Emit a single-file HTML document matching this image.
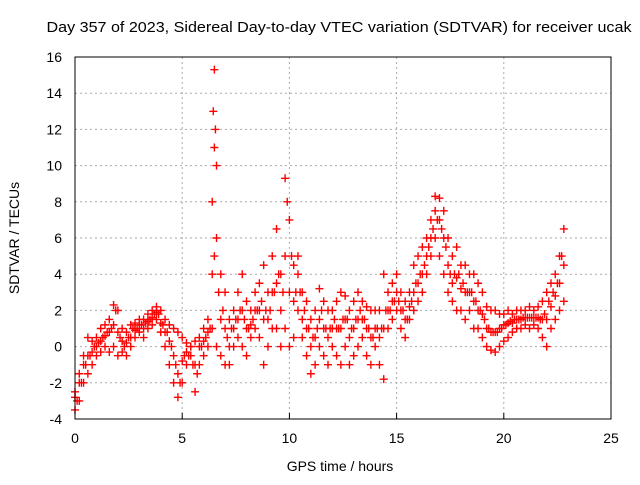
<!DOCTYPE html>
<html><head><meta charset="utf-8"><style>
body{margin:0;background:#fff}
svg text{font-family:"Liberation Sans",sans-serif;font-size:14px;fill:#000}
</style></head><body>
<svg id="c" width="640" height="480">
<text x="339" y="32" text-anchor="middle" textLength="585" lengthAdjust="spacingAndGlyphs" style="font-size:15px">Day 357 of 2023, Sidereal Day-to-day VTEC variation (SDTVAR) for receiver ucak</text>
<text x="340" y="471" text-anchor="middle">GPS time / hours</text>
<text transform="translate(19,238) rotate(-90)" text-anchor="middle">SDTVAR / TECUs</text>
<g id="grid"></g><g id="marks"></g>
<rect x="75" y="57" width="536" height="362" fill="none" stroke="#000"/>
</svg>
<script>
const xTicks=[0,5,10,15,20,25];
const yTicks=[-4,-2,0,2,4,6,8,10,12,14,16];
const times=[0,0.2,0.4,0.6,0.8,1.0,1.2,1.4,1.6,1.8,2.0,2.2,2.4,2.6,2.8,3.0,3.2,3.4,3.6,3.8,4.0,4.2,4.4,4.6,4.8,5.0,5.2,5.4,5.6,5.8,6.0,6.2,6.4,6.5,6.6,6.8,7.0,7.2,7.4,7.6,7.8,8.0,8.2,8.4,8.6,8.8,9.0,9.2,9.4,9.6,9.8,10.0,10.2,10.4,10.6,10.8,11.0,11.2,11.4,11.6,11.8,12.0,12.2,12.4,12.6,12.8,13.0,13.2,13.4,13.6,13.8,14.0,14.2,14.4,14.6,14.8,15.0,15.2,15.4,15.6,15.8,16.0,16.2,16.4,16.6,16.8,17.0,17.2,17.4,17.6,17.8,18.0,18.2,18.4,18.6,18.8,19.0,19.2,19.4,19.6,19.8,20.0,20.2,20.4,20.6,20.8,21.0,21.2,21.4,21.6,21.8,22.0,22.2,22.4,22.6,22.8];
const lowVals=[-3.5,-3,-2,-1.5,-1,-0.5,-0.3,0,-0.3,0,-0.5,-0.3,-0.5,0,0.5,0.8,0.5,1,1.2,1.5,0.8,0,-1,-2,-2.8,-2,-1,-0.5,-2.5,-1,-0.5,0,1,5,0,-0.5,-1,-1,0,0.5,0,-0.5,0.5,1,0.5,-1,0,1,1,0,1,0,0.5,2,0.5,-0.5,-1.5,-1,0,-0.5,-1,0,-0.5,-1,0,-1,-0.5,0,0.5,-0.5,-1,0,-1,-1.8,1,1.5,2,1,0.5,1.5,2,2.5,3,4,5,6,5,4,3,2.5,2,2,1.5,2,1,1,0.5,0,-0.2,-0.3,0,0.3,0.5,0.8,1,1,1.2,1,1.2,1,0.5,0,1,1.5,2,2.5];
const midVals=[-2.8,-2,-1,-0.5,-0.3,0,0.3,0.6,0.8,1.2,0.8,0.3,0.2,0.5,0.9,1.2,1,1.4,1.6,1.9,1.3,0.8,0.3,-0.5,-1.5,-0.8,-0.3,0,-1,0,0.3,0.8,4,11,6,1.5,1,0,1,1.5,2,1,1.2,2,2,1.5,1.5,3,3.5,2,5,3,2.5,4,1.5,1,0,0.5,1.5,1,0.5,1,1,1,1.5,0.5,1,1.5,1.5,1,0.5,1,0.5,1,2,2.5,3,2,1.5,2.2,3,3.5,4,5,6,7.5,7,6,4.5,3.5,3.8,3.2,3,3,2.5,2,1.8,1,0.8,0.8,1,1.2,1.3,1.3,1.5,1.5,1.6,1.6,1.6,1.6,1.5,1.5,2.2,2.8,3.5,4.5];
const highVals=[-2.5,-1.5,-0.5,0.5,0.3,0.5,1,1.2,1.5,2.3,2,1,0.8,1.2,1.3,1.5,1.5,1.8,2,2.2,2,1.5,1.2,1,0.8,0.5,0.2,0,0.3,0.5,1,1.5,8,15.3,10,4,3,1.5,2,3,4,2.5,2,3,3.5,4.5,3,5,6.5,4,9.3,7,4.5,5,3,2.5,1.5,2,3.2,2.5,2,2,2.5,3,2.8,2,2.5,3,2.5,2.2,2,2,2,4,3,3.5,4,3,2.5,3,4.5,5,5.5,6,7,8.3,8.2,7.5,6,5,5.5,4.5,4.5,4,4,3.5,3,2.2,2,2,1.8,1.8,2,1.8,2,2,2,2.2,2,2.2,2.5,3,3.5,4,5,6.5];
const times2=[0.1,0.3,0.5,0.7,0.9,1.1,1.3,1.5,1.7,1.9,2.1,2.3,2.5,2.7,2.9,3.1,3.3,3.5,3.7,3.9,4.1,4.3,4.5,4.7,4.9,5.1,5.3,5.5,5.7,5.9,6.1,6.3,6.45,6.55,6.7,6.9,7.1,7.3,7.5,7.7,7.9,8.1,8.3,8.5,8.7,8.9,9.1,9.3,9.5,9.7,9.9,10.1,10.3,10.5,10.7,10.9,11.1,11.3,11.5,11.7,11.9,12.1,12.3,12.5,12.7,12.9,13.1,13.3,13.5,13.7,13.9,14.1,14.3,14.5,14.7,14.9,15.1,15.3,15.5,15.7,15.9,16.1,16.3,16.5,16.7,16.9,17.1,17.3,17.5,17.7,17.9,18.1,18.3,18.5,18.7,18.9,19.1,19.3,19.5,19.7,19.9,20.1,20.3,20.5,20.7,20.9,21.1,21.3,21.5,21.7,21.9,22.1,22.3,22.5,22.7];
const extraVals=[-3,-2,-1,-0.5,0,0.2,0.5,0.8,1,2,0.5,0,0.5,1,1,1.2,1.3,1.5,1.8,1.8,1.2,0.8,0,-1,-2,-0.5,-0.5,-1,-1.5,0,0.5,1,13,12,3,2,0.5,1,1.5,2,1.5,1,1.5,2,2.5,2,2,3,4,3,8,5,3,3,2,1,0.5,1,2,1,1,1.5,1,1.5,1.5,1,1.5,2,1.5,1,0.5,1,1,2,2,2.5,2.5,2,1.5,2.5,3.5,4,4.5,5.5,6.5,7,6.5,5.5,4,4,4,3.5,3,3,2.5,2,1.5,1,0.8,0.8,1,1.2,1.4,1.5,1.5,1.6,1.6,1.6,1.6,1.5,1.8,2.5,3,3.5,5];
const X0=75,X1=611,Y0=419,Y1=57;
const xs=v=>X0+(v-0)/(25-0)*(X1-X0);
const ys=v=>Y0-(v+4)/20*(Y0-Y1);
const NS='http://www.w3.org/2000/svg';
const svg=document.getElementById('c'),grid=document.getElementById('grid'),marks=document.getElementById('marks');
function mk(t,a,p){const e=document.createElementNS(NS,t);for(const k in a)e.setAttribute(k,a[k]);(p||svg).appendChild(e);return e;}
xTicks.forEach(t=>{const x=xs(t);
 if(t>0&&t<25){const l=mk('line',{x1:x,x2:x,y1:Y0,y2:Y1,stroke:'#aaa','stroke-dasharray':'2,3'},grid);}
 const tk=mk('line',{x1:x,x2:x,y1:Y0,y2:Y0-6,stroke:'#000'},grid);
 const tx=mk('text',{x:x,y:443,'text-anchor':'middle'});tx.textContent=t;});
yTicks.forEach(t=>{const y=ys(t);
 if(t>-4&&t<16){const l=mk('line',{x1:X0,x2:X1,y1:y,y2:y,stroke:'#aaa','stroke-dasharray':'2,3'},grid);}
 const tx=mk('text',{x:62,y:y+5,'text-anchor':'end'});tx.textContent=t;});
function plus(t,v){const x=xs(t),y=ys(v);
 const p=mk('path',{d:`M${x-4},${y}h8M${x},${y-4}v8`,stroke:'#f00','stroke-width':1.4},marks);
 }
times.forEach((t,i)=>{plus(t,lowVals[i]);plus(t,midVals[i]);plus(t,highVals[i]);});
times2.forEach((t,i)=>{plus(t,extraVals[i]);});
</script>
</body></html>
